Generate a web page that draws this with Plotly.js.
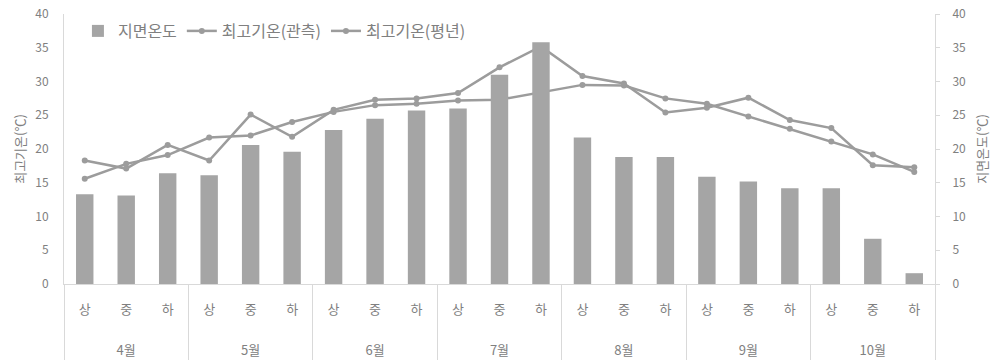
<!DOCTYPE html>
<html>
<head>
<meta charset="utf-8">
<script src="https://cdn.plot.ly/plotly-3.0.1.min.js"></script>
<style>html,body{margin:0;padding:0;background:#fff;}#chart{width:999px;height:360px;}</style>
</head>
<body>
<div id="chart"></div>
<script>
const months = ['4월','5월','6월','7월','8월','9월','10월'];
const periods = ['상','중','하'];
const groundTemp = [13.3, 13.1, 16.4, 16.1, 20.6, 19.6, 22.8, 24.5, 25.7, 26.0, 31.0, 35.8, 21.7, 18.8, 18.8, 15.9, 15.2, 14.2, 14.2, 6.7, 1.6];
const maxObserved = [18.3, 17.1, 20.6, 18.3, 25.1, 21.8, 25.8, 27.3, 27.5, 28.3, 32.1, 35.2, 30.8, 29.7, 25.4, 26.1, 27.6, 24.3, 23.1, 17.6, 17.3];
const maxNormal = [15.6, 17.8, 19.1, 21.7, 22.0, 24.0, 25.5, 26.5, 26.7, 27.2, 27.3, 28.4, 29.5, 29.4, 27.5, 26.7, 24.8, 23.0, 21.1, 19.2, 16.6];
const legendNames = ['지면온도', '최고기온(관측)', '최고기온(평년)'];

// outer (month) labels are pushed down with blank lines to sit on the second label row
const pad = '\u00a0<br>\u00a0<br>';
const xOuter = [], xInner = [];
months.forEach(m => periods.forEach(p => { xOuter.push(pad + m); xInner.push(p); }));
const xs = [xOuter, xInner];

const barColor = '#a5a5a5';
const lineColor = '#9c9c9c';
const txtColor = '#808080';
const font = 'Noto Sans CJK KR, sans-serif';

const traces = [
  {type:'bar', x: xs, y: groundTemp, name: legendNames[0], yaxis:'y2', marker:{color:barColor}},
  {type:'scatter', mode:'lines+markers', x: xs, y: maxObserved, name: legendNames[1], yaxis:'y',
   line:{color:lineColor, width:2.5}, marker:{color:lineColor, size:6, symbol:'circle'}},
  {type:'scatter', mode:'lines+markers', x: xs, y: maxNormal, name: legendNames[2], yaxis:'y',
   line:{color:lineColor, width:2.5}, marker:{color:lineColor, size:6, symbol:'circle'}}
];

const layout = {
  width: 999, height: 360,
  margin: {l:64, r:64, t:14, b:76, autoexpand:false},
  paper_bgcolor:'#fff', plot_bgcolor:'#fff',
  font: {family: font, color: txtColor, size: 12},
  bargap: 0.58,
  showlegend: true,
  legend: {orientation:'h', x:0.016, y:1.0, yanchor:'top', xanchor:'left',
    font:{size:16, color:txtColor, family:font}, bgcolor:'rgba(0,0,0,0)', traceorder:'normal'},
  xaxis: {type:'multicategory', automargin:false, range:[-0.5, 20.5], autorange:false,
    showline:true, linecolor:'#d9d9d9', linewidth:1,
    showgrid:false, ticks:'', showdividers:true, dividercolor:'#d9d9d9', dividerwidth:1,
    ticklabelstandoff:13,
    tickfont:{size:13, color:txtColor, family:font}},
  yaxis: {range:[0,40], dtick:5, automargin:false, showgrid:false, zeroline:false, showline:true, linecolor:'#d9d9d9',
    ticks:'', ticklabelstandoff:12, tickfont:{size:12, color:txtColor},
    title:{text:'최고기온(℃)', font:{size:13, color:txtColor}, standoff:6}},
  yaxis2: {range:[0,40], dtick:5, automargin:false, overlaying:'y', side:'right', showgrid:false, zeroline:false,
    showline:true, linecolor:'#d9d9d9', ticks:'outside', ticklen:4, tickcolor:'#d9d9d9', ticklabelstandoff:10,
    tickfont:{size:12, color:txtColor},
    title:{text:'지면온도(℃)', font:{size:13, color:txtColor}, standoff:12}}
};

Plotly.newPlot('chart', traces, layout, {displayModeBar:false, staticPlot:true});
</script>
</body>
</html>
